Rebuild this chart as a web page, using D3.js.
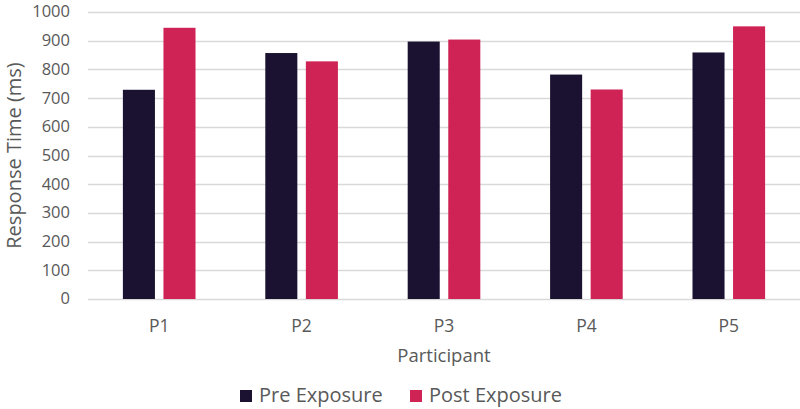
<!DOCTYPE html>
<html>
<head>
<meta charset="utf-8">
<script src="https://cdn.jsdelivr.net/npm/d3@7"></script>
<style>
  body { margin: 0; background: #fff; }
  svg { display: block; font-family: "Open Sans", sans-serif; }
</style>
</head>
<body>
<svg id="chart" width="800" height="409"></svg>
<script>
// data
const participants = ["P1", "P2", "P3", "P4", "P5"];
const preExposure = [729, 857, 897, 782, 859];
const postExposure = [945, 828, 904, 730, 950];
const seriesNames = ["Pre Exposure", "Post Exposure"];
const yTicks = [0, 100, 200, 300, 400, 500, 600, 700, 800, 900, 1000];

const colours = ["#1b1231", "#cf2255"];
const textColour = "#595959";

const width = 800,
    height = 409,
    margin = {top: 12, right: 0, bottom: 110, left: 88};

const svg = d3.select("#chart");

const x = d3.scaleBand()
    .domain(participants)
    .range([margin.left, width - margin.right])
    .paddingInner(0.49)
    .paddingOuter(0.245);

const xSeries = d3.scaleBand()
    .domain(seriesNames)
    .range([0, x.bandwidth()])
    .paddingInner(0.21);

const y = d3.scaleLinear()
    .domain([0, 1000])
    .range([height - margin.bottom, margin.top]);

// gridlines
svg.append("g")
    .selectAll("line")
    .data(yTicks)
    .join("line")
    .attr("x1", margin.left)
    .attr("x2", width - margin.right)
    .attr("y1", d => Math.round(y(d)) + 0.5)
    .attr("y2", d => Math.round(y(d)) + 0.5)
    .attr("stroke", "#d9d9d9")
    .attr("stroke-width", 1.3);

// y tick labels
svg.append("g")
    .attr("fill", textColour)
    .attr("font-size", 16.5)
    .attr("text-anchor", "end")
    .selectAll("text")
    .data(yTicks)
    .join("text")
    .attr("x", 70)
    .attr("y", d => y(d))
    .attr("dy", "0.33em")
    .text(d => d);

// bars
const rows = participants.map((p, i) => ({p: p, values: [preExposure[i], postExposure[i]]}));

svg.append("g")
    .selectAll("g")
    .data(rows)
    .join("g")
    .attr("transform", d => "translate(" + x(d.p) + ",0)")
    .selectAll("rect")
    .data(d => d.values.map((v, j) => ({name: seriesNames[j], value: v, c: colours[j]})))
    .join("rect")
    .attr("x", d => xSeries(d.name))
    .attr("width", xSeries.bandwidth())
    .attr("y", d => y(d.value))
    .attr("height", d => y(0) - y(d.value))
    .attr("fill", d => d.c);

// x tick labels
svg.append("g")
    .attr("fill", textColour)
    .attr("font-size", 17.5)
    .attr("text-anchor", "middle")
    .selectAll("text")
    .data(participants)
    .join("text")
    .attr("x", d => x(d) + x.bandwidth() / 2)
    .attr("y", 332)
    .text(d => d);

// axis titles
svg.append("text")
    .attr("x", (margin.left + width - margin.right) / 2)
    .attr("y", 362)
    .attr("text-anchor", "middle")
    .attr("fill", textColour)
    .attr("font-size", 18.5)
    .text("Participant");

svg.append("text")
    .attr("transform", "translate(21," + ((y(0) + y(1000)) / 2) + ") rotate(-90)")
    .attr("text-anchor", "middle")
    .attr("fill", textColour)
    .attr("font-size", 20)
    .text("Response Time (ms)");

// legend
const legendX = [240, 410];
const legend = svg.append("g")
    .selectAll("g")
    .data(seriesNames)
    .join("g")
    .attr("transform", (d, i) => "translate(" + legendX[i] + ",390)");

legend.append("rect")
    .attr("width", 12)
    .attr("height", 12)
    .attr("fill", (d, i) => colours[i]);

legend.append("text")
    .attr("x", 19)
    .attr("y", 12)
    .attr("fill", textColour)
    .attr("font-size", 20)
    .text(d => d);
</script>
</body>
</html>
